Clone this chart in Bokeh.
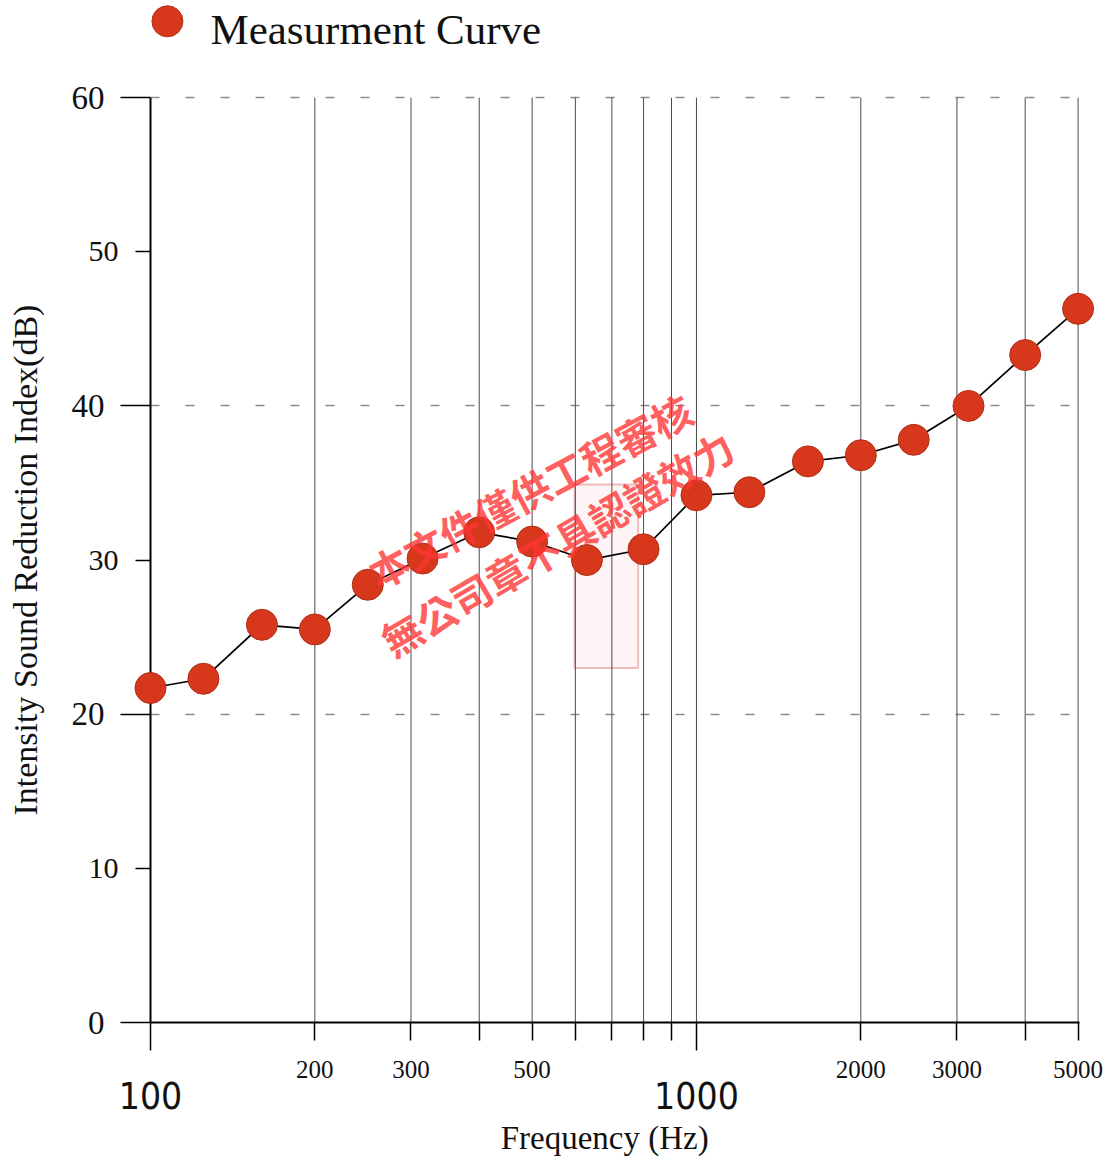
import math
from bokeh.plotting import figure
from bokeh.models import Range1d, FixedTicker, ColumnDataSource, BoxAnnotation, Label
from bokeh.core.properties import value
from bokeh.embed import file_html
from bokeh.resources import INLINE

# ---- data ----
freqs = [100, 125, 160, 200, 250, 315, 400, 500, 630, 800,
         1000, 1250, 1600, 2000, 2500, 3150, 4000, 5000]
values = [21.7, 22.3, 25.8, 25.5, 28.4, 30.1, 31.8, 31.2, 30.0, 30.7,
          34.2, 34.4, 36.4, 36.8, 37.8, 40.0, 43.3, 46.3]

x_major_ticks = [100, 1000]
x_major_labels = ["100", "1000"]
x_minor_ticks = [200, 300, 400, 500, 600, 700, 800, 900, 2000, 3000, 4000, 5000]
x_small_ticks = [200, 300, 500, 2000, 3000, 5000]
x_small_labels = ["200", "300", "500", "2000", "3000", "5000"]
x_grid_ticks = [200, 300, 400, 500, 600, 700, 800, 900, 1000, 2000, 3000, 4000, 5000]
y_major_ticks = [0, 20, 40, 60]
y_major_labels = ["0", "20", "40", "60"]
y_minor_ticks = [10, 30, 50]
y_minor_labels = ["10", "30", "50"]
y_dashed_grid = [20, 40, 60]

series_name = "Measurment Curve"
x_title = "Frequency (Hz)"
y_title = "Intensity Sound Reduction Index(dB)"
watermark_1 = "本文件僅供工程審核"
watermark_2 = "無公司章不具認證效力"

# legend key anchor (data units, above the 60 dB line)
legend_x = [107.4]
legend_y = [64.95]
x_title_pos = [679]
y_title_pos = [30]

SERIF = "Liberation Serif"
NARROW = "Liberation Sans Narrow, DejaVu Sans Condensed, Liberation Sans"
INK = "#111111"
RED = "#d7381c"

y_lo, y_hi = y_major_ticks[0], y_major_ticks[-1]

p = figure(x_axis_type="log", x_range=Range1d(100, 5030), y_range=Range1d(0, 66.3),
           frame_width=929, frame_height=1022,
           min_border_left=150, min_border_top=0, min_border_right=26, min_border_bottom=134,
           output_backend="svg", toolbar_location=None,
           background_fill_color="white", border_fill_color="white",
           outline_line_color=None)

# grids: vertical lines drawn as segments that stop at the 60 dB line
p.xgrid.visible = False
p.ygrid.ticker = FixedTicker(ticks=y_dashed_grid)
p.ygrid.grid_line_color = "#8a8a8a"
p.ygrid.grid_line_width = 1.5
p.ygrid.grid_line_dash = "9 26"
p.segment(x0=x_grid_ticks, y0=[y_lo] * len(x_grid_ticks),
          x1=x_grid_ticks, y1=[y_hi] * len(x_grid_ticks),
          line_color="#4a4a4a", line_width=1)

# x axis
xa = p.xaxis[0]
xa.ticker = FixedTicker(ticks=x_major_ticks, minor_ticks=x_minor_ticks)
xa.major_label_overrides = {t: l for t, l in zip(x_major_ticks, x_major_labels)}
xa.axis_line_width = 2
xa.axis_line_color = "black"
xa.major_tick_in = 0
xa.major_tick_out = 28
xa.minor_tick_in = 0
xa.minor_tick_out = 18
xa.major_tick_line_width = 1.5
xa.minor_tick_line_width = 1.5
xa.major_tick_line_color = "black"
xa.minor_tick_line_color = "black"
xa.major_label_text_font = NARROW
xa.major_label_text_font_size = "37px"
xa.major_label_text_color = INK
xa.major_label_standoff = 31

# y axis (line drawn separately so that it stops at 60)
ya = p.yaxis[0]
ya.ticker = FixedTicker(ticks=y_major_ticks, minor_ticks=y_minor_ticks)
ya.major_label_overrides = {t: l for t, l in zip(y_major_ticks, y_major_labels)}
ya.axis_line_color = None
ya.major_tick_in = 0
ya.major_tick_out = 30
ya.minor_tick_in = 0
ya.minor_tick_out = 15
ya.major_tick_line_width = 1.5
ya.minor_tick_line_width = 1.5
ya.major_tick_line_color = "black"
ya.minor_tick_line_color = "black"
ya.major_label_text_font = SERIF
ya.major_label_text_font_size = "33px"
ya.major_label_text_color = INK
ya.major_label_standoff = 16

# faint seal box
seal = BoxAnnotation(left=598, right=782, top=34.9, bottom=23.0,
                     fill_color="#f4c8c8", fill_alpha=0.18,
                     line_color="#e07070", line_alpha=0.45, line_width=2,
                     level="underlay")
p.add_layout(seal)

# y axis line
p.segment(x0=[x_major_ticks[0]], y0=[y_lo], x1=[x_major_ticks[0]], y1=[y_hi],
          line_color="black", line_width=2, level="overlay")

# curve
src = ColumnDataSource(dict(x=freqs, y=values))
p.line("x", "y", source=src, line_color="black", line_width=1.7, level="overlay")
p.scatter("x", "y", source=src, size=31, fill_color=RED,
          line_color="#b02e18", line_width=1, level="overlay")

# extra tick labels (text glyphs, not clipped at overlay level)
p.text(x=[x_major_ticks[0]] * len(y_minor_ticks), y=y_minor_ticks, text=y_minor_labels,
       x_offset=-32, text_align="right", text_baseline="middle",
       text_font=value(SERIF), text_font_size="30px", text_color=INK, level="overlay")
p.text(x=x_small_ticks, y=[y_lo] * len(x_small_ticks), text=x_small_labels,
       y_offset=47, text_align="center", text_baseline="middle",
       text_font=value(SERIF), text_font_size="25px", text_color=INK, level="overlay")

# axis titles
p.text(x=x_title_pos, y=[y_lo], text=[x_title], y_offset=115,
       text_align="center", text_baseline="middle",
       text_font=value(SERIF), text_font_size="33px", text_color=INK, level="overlay")
p.text(x=[x_major_ticks[0]], y=y_title_pos, text=[y_title], x_offset=-125,
       angle=math.pi / 2, text_align="center", text_baseline="middle",
       text_font=value(SERIF), text_font_size="34px", text_color=INK, level="overlay")

# legend (key + label)
p.scatter(x=legend_x, y=legend_y, size=31, fill_color=RED,
          line_color="#b02e18", line_width=1, level="overlay")
p.text(x=legend_x, y=legend_y, text=[series_name], x_offset=43, y_offset=8,
       text_align="left", text_baseline="middle",
       text_font=value(SERIF), text_font_size="43px", text_color=INK, level="overlay")

# watermark
p.add_layout(Label(x=495, y=34.5, text=watermark_1, angle=0.49, text_align="center",
                   text_baseline="middle", text_font="Noto Sans CJK TC",
                   text_font_style="bold", text_font_size="40px",
                   text_color="#ff3535", text_alpha=0.8, level="overlay"))
p.add_layout(Label(x=556, y=31.1, text=watermark_2, angle=0.53, text_align="center",
                   text_baseline="middle", text_font="Noto Sans CJK TC",
                   text_font_style="bold", text_font_size="40px",
                   text_color="#ff3535", text_alpha=0.8, level="overlay"))

open("out.html", "w").write(file_html(p, INLINE))
